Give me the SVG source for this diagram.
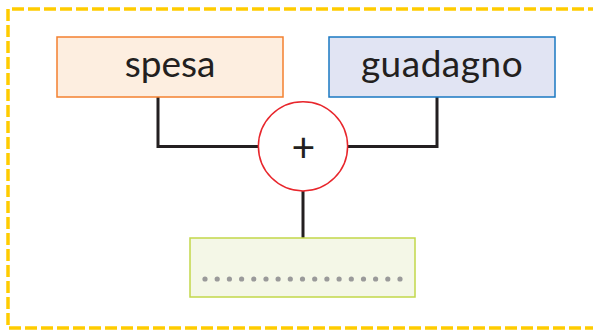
<svg xmlns="http://www.w3.org/2000/svg" width="593" height="330" viewBox="0 0 593 330">
<style>
.lbl{font-family:"Lato","Open Sans",sans-serif;font-size:37px;fill:#231f20;text-anchor:middle}
.conn{fill:none;stroke:#231f20;stroke-width:3}
.dot{fill:#9a9a9a}
</style>
<rect width="593" height="330" fill="#ffffff"/>
<path d="M600 9 H8 V328 H600" fill="none" stroke="#ffcc00" stroke-width="3.5" stroke-dasharray="12 4"/>
<g id="connectors">
<path class="conn" d="M158 97 V146.5 H259"/>
<path class="conn" d="M437 97 V146.5 H348"/>
<path class="conn" d="M303 191 V238"/>
</g>
<g id="spesa">
<rect x="57" y="37" width="226" height="60" fill="#fdeee0" stroke="#f3802f" stroke-width="1.5"/>
<text class="lbl" x="170" y="77">spesa</text>
</g>
<g id="guadagno">
<rect x="329" y="37" width="226" height="60" fill="#e1e4f3" stroke="#1a78c2" stroke-width="1.5"/>
<text class="lbl" x="442" y="77" letter-spacing="0.5">guadagno</text>
</g>
<g id="plus">
<circle cx="303" cy="146.3" r="44.6" fill="#ffffff" stroke="#e8262c" stroke-width="1.5"/>
<text x="303.5" y="161.5" font-family="Lato,'Open Sans',sans-serif" font-size="41" fill="#231f20" text-anchor="middle">+</text>
</g>
<g id="result">
<rect x="190" y="238" width="225" height="59" fill="#f4f7e7" stroke="#c2d84a" stroke-width="1.5"/>
<g class="dot">
<circle cx="205" cy="279" r="2.6"/><circle cx="217.2" cy="279" r="2.6"/><circle cx="229.4" cy="279" r="2.6"/><circle cx="241.6" cy="279" r="2.6"/><circle cx="253.8" cy="279" r="2.6"/><circle cx="266" cy="279" r="2.6"/><circle cx="278.1" cy="279" r="2.6"/><circle cx="290.3" cy="279" r="2.6"/><circle cx="302.5" cy="279" r="2.6"/><circle cx="314.7" cy="279" r="2.6"/><circle cx="326.9" cy="279" r="2.6"/><circle cx="339.1" cy="279" r="2.6"/><circle cx="351.3" cy="279" r="2.6"/><circle cx="363.5" cy="279" r="2.6"/><circle cx="375.6" cy="279" r="2.6"/><circle cx="387.8" cy="279" r="2.6"/><circle cx="400" cy="279" r="2.6"/>
</g>
</g>
</svg>
